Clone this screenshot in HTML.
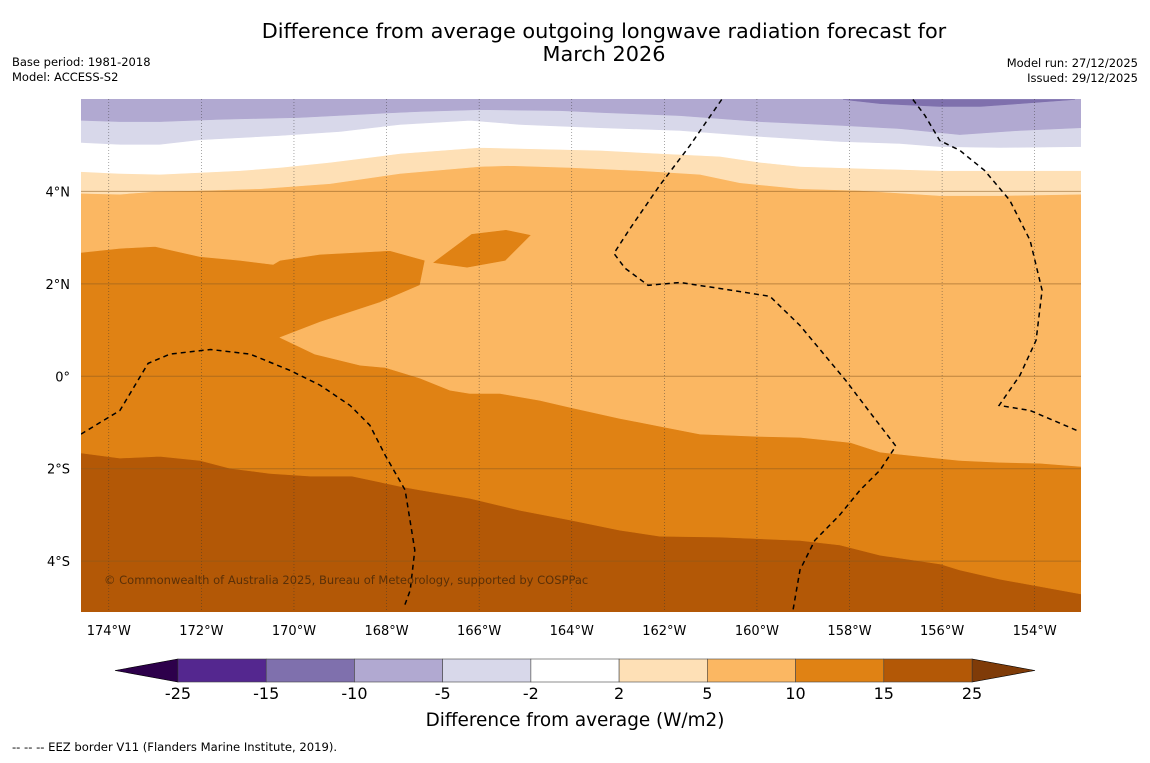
<!DOCTYPE html>
<html><head><meta charset="utf-8">
<style>
body{margin:0;background:#fff;}
svg text{font-family:"DejaVu Sans","Liberation Sans",sans-serif;}
</style></head>
<body>
<svg id="chart" width="1150" height="758" viewBox="0 0 1150 758" xmlns="http://www.w3.org/2000/svg">
<rect width="1150" height="758" fill="#ffffff"/>
<text x="604" y="38" font-size="20.8" text-anchor="middle" fill="#000">Difference from average outgoing longwave radiation forecast for</text>
<text x="604" y="61" font-size="20.8" text-anchor="middle" fill="#000">March 2026</text>
<text x="12" y="66" font-size="11.5">Base period: 1981-2018</text>
<text x="12" y="81" font-size="11.5">Model: ACCESS-S2</text>
<text x="1138" y="67" font-size="11.5" text-anchor="end">Model run: 27/12/2025</text>
<text x="1138" y="82" font-size="11.5" text-anchor="end">Issued: 29/12/2025</text>
<defs><clipPath id="mapclip"><rect x="81" y="99" width="1000" height="513"/></clipPath></defs>
<g id="map" clip-path="url(#mapclip)"></g>
<g id="axes"></g>
<g id="cbar"></g>
<text x="575" y="726" font-size="18.4" text-anchor="middle">Difference from average (W/m2)</text>
<text x="12" y="751" font-size="11.6">--  --  -- EEZ border V11 (Flanders Marine Institute, 2019).</text>
</svg>
<script>
const NS="http://www.w3.org/2000/svg";
const lonMin=-174.6, lonMax=-153.0, latMin=-5.1, latMax=6.0;
const lonTicks=[-174,-172,-170,-168,-166,-164,-162,-160,-158,-156,-154];
const lonTickLabels=["174°W","172°W","170°W","168°W","166°W","164°W","162°W","160°W","158°W","156°W","154°W"];
const latTicks=[4,2,0,-2,-4];
const latTickLabels=["4°N","2°N","0°","2°S","4°S"];
const levels=[-25,-15,-10,-5,-2,2,5,10,15,25];
const levelLabels=["-25","-15","-10","-5","-2","2","5","10","15","25"];
const bandColors=["#54278f","#7f70ad","#b1a9d1","#d8d8ea","#ffffff","#fee0b6","#fbb762","#e08214","#b35806"];
const extLow="#2d004b", extHigh="#7f3b08";
const c15Lon=[-174.6,-173.76,-172.9,-172.03,-171.38,-170.52,-169.65,-168.75,-167.71,-167.28,-166.2,-165.12,-164.04,-162.96,-162.1,-160.8,-159.07,-158.21,-157.34,-156.05,-155.62,-154.75,-153.0];
const c15Lat=[-1.66,-1.77,-1.73,-1.82,-1.99,-2.1,-2.16,-2.16,-2.38,-2.46,-2.64,-2.9,-3.11,-3.33,-3.46,-3.48,-3.55,-3.65,-3.87,-4.06,-4.19,-4.39,-4.71];
const c10Lon=[-174.6,-173.76,-173.0,-172.03,-171.17,-170.45,-170.3,-169.44,-167.93,-167.17,-167.28,-168.14,-169.44,-170.3,-169.55,-168.57,-168.03,-167.28,-166.63,-166.2,-165.55,-164.69,-164.04,-162.96,-162.1,-161.23,-159.93,-159.07,-157.99,-157.34,-156.7,-155.62,-154.75,-153.89,-153.0];
const c10Lat=[2.68,2.77,2.81,2.59,2.51,2.42,2.51,2.64,2.72,2.51,1.97,1.6,1.17,0.84,0.48,0.24,0.19,-0.04,-0.3,-0.37,-0.37,-0.52,-0.67,-0.91,-1.08,-1.25,-1.3,-1.32,-1.43,-1.64,-1.71,-1.82,-1.86,-1.88,-1.95];
const blobLon=[-166.98,-166.16,-165.42,-164.9,-165.44,-166.26];
const blobLat=[2.46,3.07,3.16,3.05,2.51,2.36];
const c5Lon=[-174.6,-173.76,-173.0,-172.03,-170.73,-169.22,-167.71,-165.98,-165.33,-164.04,-162.53,-161.23,-160.37,-159.07,-157.77,-156.05,-154.75,-153.0];
const c5Lat=[3.96,3.94,4.0,4.02,4.06,4.17,4.39,4.54,4.56,4.52,4.45,4.37,4.19,4.06,4.02,3.91,3.91,3.94];
const c2Lon=[-174.6,-173.76,-172.9,-172.03,-171.17,-170.3,-169.22,-167.71,-165.98,-165.12,-163.39,-162.1,-160.8,-159.93,-159.07,-157.77,-156.05,-154.75,-153.0];
const c2Lat=[4.43,4.39,4.37,4.41,4.45,4.52,4.63,4.82,4.95,4.93,4.89,4.82,4.76,4.63,4.54,4.5,4.45,4.45,4.45];
const cm2Lon=[-174.6,-173.76,-172.9,-172.03,-170.3,-169.0,-167.71,-166.2,-165.12,-163.39,-161.66,-159.93,-158.21,-156.91,-156.05,-154.75,-153.0];
const cm2Lat=[5.06,5.02,5.02,5.12,5.21,5.3,5.45,5.54,5.45,5.38,5.32,5.19,5.08,5.04,4.97,4.95,4.97];
const cm5Lon=[-174.6,-173.76,-172.9,-171.6,-169.87,-168.14,-167.28,-165.98,-164.25,-163.39,-161.66,-159.93,-158.21,-156.91,-155.62,-154.32,-153.0];
const cm5Lat=[5.54,5.51,5.51,5.56,5.6,5.69,5.73,5.77,5.75,5.71,5.64,5.51,5.43,5.36,5.23,5.32,5.38];
const cm10Lon=[-158.14,-157.34,-156.05,-155.18,-154.32,-153.13];
const cm10Lat=[5.99,5.9,5.84,5.84,5.9,5.99];
const eez1Lon=[-174.6,-173.76,-173.15,-172.68,-171.8,-170.95,-170.09,-169.44,-168.79,-168.36,-168.03,-167.6,-167.39,-167.49,-167.62];
const eez1Lat=[-1.25,-0.74,0.28,0.48,0.58,0.48,0.13,-0.19,-0.63,-1.06,-1.71,-2.46,-3.76,-4.63,-4.99];
const eez2Lon=[-160.76,-161.45,-162.1,-162.74,-163.09,-162.85,-162.35,-161.66,-160.8,-159.72,-159.07,-158.08,-157.56,-157.0,-157.34,-157.77,-158.21,-158.75,-159.07,-159.22];
const eez2Lat=[5.99,4.99,4.13,3.2,2.66,2.34,1.97,2.03,1.9,1.73,1.1,-0.09,-0.78,-1.51,-2.03,-2.46,-3.0,-3.55,-4.19,-5.06];
const eez3Lon=[-156.63,-156.37,-156.05,-155.62,-155.08,-154.54,-154.1,-153.84,-153.97,-154.32,-154.77,-154.1,-153.09];
const eez3Lat=[5.99,5.64,5.1,4.89,4.45,3.81,2.94,1.86,0.78,0.02,-0.63,-0.74,-1.17];

const X0=81,X1=1081,Y0=99,Y1=612;
const xS=lon=>X0+(lon-lonMin)*(X1-X0)/(lonMax-lonMin);
const yS=lat=>Y1-(lat-latMin)*(Y1-Y0)/(latMax-latMin);
const map=document.getElementById('map');
function ptsOf(lons,lats){return lons.map((l,i)=>xS(l).toFixed(1)+','+yS(lats[i]).toFixed(1));}
function addPoly(lons,lats,color,name,closeTop){
  const p=document.createElementNS(NS,'polygon');
  let pts=ptsOf(lons,lats);
  if(closeTop){pts.push(xS(lonMax)+','+yS(latMax));pts.push(xS(lonMin)+','+yS(latMax));}
  p.setAttribute('points',pts.join(' '));
  p.setAttribute('fill',color);
  p.setAttribute('stroke',color);p.setAttribute('stroke-width','0.6');
  
  
  map.appendChild(p);
}
const bg=document.createElementNS(NS,'rect');
bg.setAttribute('x',X0);bg.setAttribute('y',Y0);bg.setAttribute('width',X1-X0);bg.setAttribute('height',Y1-Y0);bg.setAttribute('fill',bandColors[8]);


map.appendChild(bg);
addPoly(c15Lon,c15Lat,bandColors[7],'band-10-15',true);
addPoly(c10Lon,c10Lat,bandColors[6],'band-5-10',true);
addPoly(blobLon,blobLat,bandColors[7],'band-10-15-patch',false);
addPoly(c5Lon,c5Lat,bandColors[5],'band-2-5',true);
addPoly(c2Lon,c2Lat,bandColors[4],'band-neutral',true);
addPoly(cm2Lon,cm2Lat,bandColors[3],'band-minus5-minus2',true);
addPoly(cm5Lon,cm5Lat,bandColors[2],'band-minus10-minus5',true);
addPoly(cm10Lon,cm10Lat,bandColors[1],'band-minus15-minus10',false);
lonTicks.forEach((lon,i)=>{
  const l=document.createElementNS(NS,'line');
  l.setAttribute('x1',xS(lon));l.setAttribute('x2',xS(lon));l.setAttribute('y1',Y0);l.setAttribute('y2',Y1);
  l.setAttribute('stroke','#333');l.setAttribute('stroke-width','0.6');l.setAttribute('stroke-dasharray','1,2');l.setAttribute('opacity','0.7');
  
  
  map.appendChild(l);
});
latTicks.forEach(lat=>{
  const l=document.createElementNS(NS,'line');
  l.setAttribute('x1',X0);l.setAttribute('x2',X1);l.setAttribute('y1',yS(lat));l.setAttribute('y2',yS(lat));
  l.setAttribute('stroke','#8a5a20');l.setAttribute('stroke-width','1');l.setAttribute('opacity','0.55');
  
  
  map.appendChild(l);
});
[[eez1Lon,eez1Lat],[eez2Lon,eez2Lat],[eez3Lon,eez3Lat]].forEach(([a,b])=>{
  const p=document.createElementNS(NS,'polyline');
  p.setAttribute('points',ptsOf(a,b).join(' '));
  p.setAttribute('fill','none');p.setAttribute('stroke','#000');p.setAttribute('stroke-width','1.5');p.setAttribute('stroke-dasharray','5,4');
  
  
  map.appendChild(p);
});
const cp=document.createElementNS(NS,'text');
cp.setAttribute('x',104);cp.setAttribute('y',584);cp.setAttribute('font-size','11.5');cp.setAttribute('fill','#5a3008');
cp.textContent='© Commonwealth of Australia 2025, Bureau of Meteorology, supported by COSPPac';


map.appendChild(cp);
const axes=document.getElementById('axes');
lonTicks.forEach((lon,i)=>{
  const t=document.createElementNS(NS,'text');
  t.setAttribute('x',xS(lon));t.setAttribute('y',635);t.setAttribute('font-size','13');t.setAttribute('text-anchor','middle');
  t.textContent=lonTickLabels[i];
  
  
  axes.appendChild(t);
});
latTicks.forEach((lat,i)=>{
  const t=document.createElementNS(NS,'text');
  t.setAttribute('x',70);t.setAttribute('y',yS(lat)+5);t.setAttribute('font-size','13');t.setAttribute('text-anchor','end');
  t.textContent=latTickLabels[i];
  
  
  axes.appendChild(t);
});
const cb=document.getElementById('cbar');
const cbX0=178,cbX1=972,cbY=659,cbH=23,ext=63;
const cbx=i=>cbX0+i*(cbX1-cbX0)/(levels.length-1);
const lt=document.createElementNS(NS,'polygon');
lt.setAttribute('points',`${cbX0},${cbY} ${cbX0},${cbY+cbH} ${cbX0-ext},${cbY+cbH/2}`);lt.setAttribute('fill',extLow);lt.setAttribute('stroke','#000');lt.setAttribute('stroke-width','0.6');


cb.appendChild(lt);
const rt=document.createElementNS(NS,'polygon');
rt.setAttribute('points',`${cbX1},${cbY} ${cbX1},${cbY+cbH} ${cbX1+ext},${cbY+cbH/2}`);rt.setAttribute('fill',extHigh);rt.setAttribute('stroke','#000');rt.setAttribute('stroke-width','0.6');


cb.appendChild(rt);
bandColors.forEach((c,i)=>{
  const r=document.createElementNS(NS,'rect');
  r.setAttribute('x',cbx(i));r.setAttribute('y',cbY);r.setAttribute('width',cbx(i+1)-cbx(i));r.setAttribute('height',cbH);
  r.setAttribute('fill',c);r.setAttribute('stroke','#444');r.setAttribute('stroke-width','0.6');
  
  
  cb.appendChild(r);
});
levelLabels.forEach((s,i)=>{
  const t=document.createElementNS(NS,'text');
  t.setAttribute('x',cbx(i));t.setAttribute('y',699);t.setAttribute('font-size','16');t.setAttribute('text-anchor','middle');
  t.textContent=s;
  
  
  cb.appendChild(t);
});
</script>
</body></html>
